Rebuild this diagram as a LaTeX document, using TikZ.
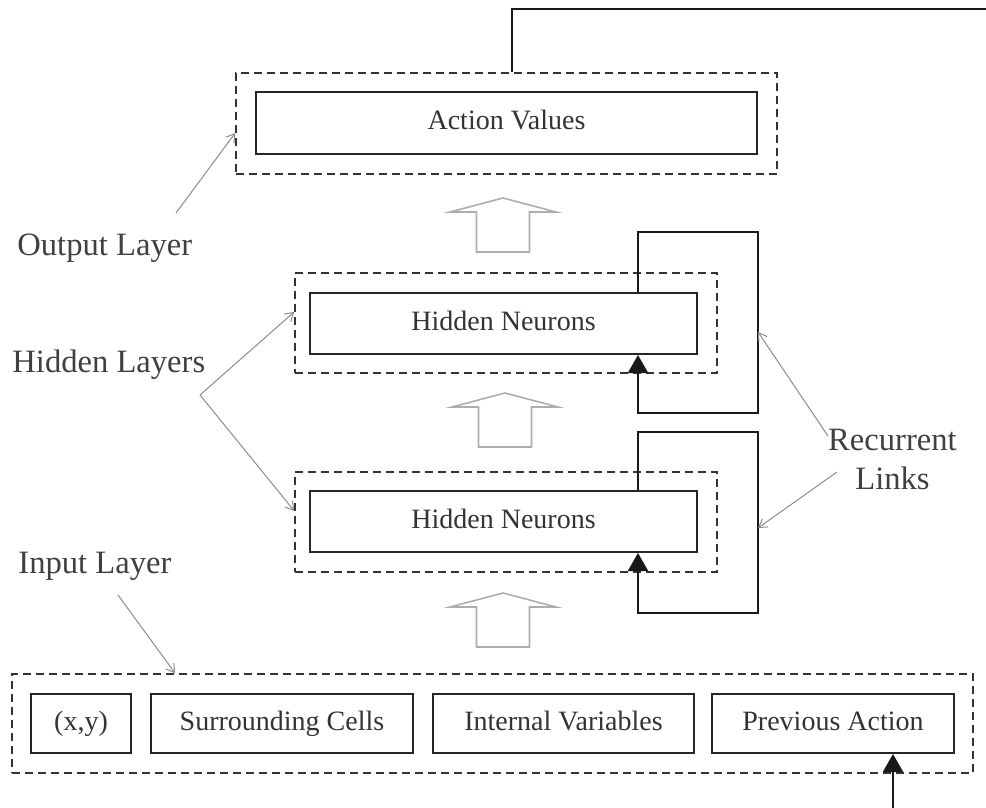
\documentclass[tikz,border=0pt]{standalone}
\usepackage{fontspec}
\setmainfont{Liberation Serif}
\usetikzlibrary{arrows.meta,calc}
\begin{document}
\begin{tikzpicture}[x=0.5pt,y=-0.5pt,
  solidbox/.style={draw=black!85, line width=1pt, inner sep=0pt, text height=9.5pt, text depth=3pt, font=\fontsize{14}{16}\selectfont, text=black!80},
  dashbox/.style={draw=black!80, line width=0.75pt, dash pattern=on 4pt off 2.5pt, inner sep=0pt},
  lbl/.style={inner sep=0pt, font=\fontsize{16.3}{20}\selectfont, text=black!75},
  leader/.style={draw=black!45, line width=0.5pt, -{Straight Barb[length=4pt,width=5pt]}},
  link/.style={draw=black!90, line width=1pt, -{Triangle[width=10pt,length=9pt]}},
  plain/.style={draw=black!90, line width=1pt},
  pics/hollowup/.style={code={\draw[black!32, line width=0.8pt] (-26.5,54) -- (-26.5,14) -- (-53,14) -- (0,0) -- (53,14) -- (26.5,14) -- (26.5,54) -- cycle;}}
]
\useasboundingbox (0,0) rectangle (986,808);
\fill[white] (0,0) rectangle (986,808);

% output layer
\node[dashbox, minimum width=270.5pt, minimum height=50.5pt] (avo) at (506.5,123.5) {};
\node[solidbox, minimum width=250.5pt, minimum height=31pt] (av) at (506.5,123) {Action Values};

% hidden layers
\node[dashbox, minimum width=211pt, minimum height=50pt] (h1o) at (506,323) {};
\node[solidbox, minimum width=193.5pt, minimum height=30.5pt] (h1) at (503.5,323.5) {Hidden Neurons};
\node[dashbox, minimum width=211pt, minimum height=50pt] (h2o) at (506,522) {};
\node[solidbox, minimum width=193.5pt, minimum height=30.5pt] (h2) at (503.5,521.5) {Hidden Neurons};

% input layer
\node[dashbox, minimum width=480.5pt, minimum height=49.5pt] (in) at (492.5,723.5) {};
\node[solidbox, minimum width=50pt, minimum height=29.5pt] (xy) at (81,723.5) {(x,y)};
\node[solidbox, minimum width=131pt, minimum height=29.5pt] (sc) at (282,723.5) {Surrounding Cells};
\node[solidbox, minimum width=130.5pt, minimum height=29.5pt] (iv) at (563.5,723.5) {Internal Variables};
\node[solidbox, minimum width=121pt, minimum height=29.5pt] (pa) at (833,723.5) {Previous Action};

% feedback line
\coordinate (fb1) at (512,9);
\coordinate (fb2) at (986,9);
\draw[plain] (avo.north -| fb1) -- (fb1) -- (fb2);

% recurrent loops
\coordinate (l1a) at (638,232);
\coordinate (l1b) at (758,413);
\draw[link] (h1.north -| l1a) -- (l1a) -- (l1a -| l1b) -- (l1b) -- (l1b -| l1a) -- (h1.south -| l1a);
\coordinate (l2a) at (638,432);
\coordinate (l2b) at (758,613);
\draw[link] (h2.north -| l2a) -- (l2a) -- (l2a -| l2b) -- (l2b) -- (l2b -| l2a) -- (h2.south -| l2a);

% input arrow
\coordinate (pin) at (893,808);
\draw[link] (pin) -- (pa.south -| pin);

% hollow arrows
\pic (ha1) at (503,198) {hollowup};
\pic (ha2) at (505,393) {hollowup};
\pic (ha3) at (503,593) {hollowup};

% labels
\node[lbl, anchor=base west] (ol) at (17,256) {Output Layer};
\node[lbl, anchor=base west] (hl) at (12,372) {Hidden Layers};
\node[lbl, anchor=base west] (il) at (18,573) {Input Layer};
\node[lbl, anchor=base] (rl1) at (892.5,450) {Recurrent};
\node[lbl, anchor=base] (rl2) at (892.5,489) {Links};

% leaders
\coordinate (olst) at (176,213);
\draw[leader] (olst) -- (avo.182);
\coordinate (hlst) at (200,395);
\draw[leader] (hlst) -- (h1o.177.3);
\draw[leader] (hlst) -- (h2o.177.6);
\coordinate (rla) at (828,436);
\coordinate (rle1) at (758,332);
\draw[leader] (rla) -- (rle1);
\coordinate (rlb) at (837,472);
\coordinate (rle2) at (758,528);
\draw[leader] (rlb) -- (rle2);
\coordinate (ilst) at (118,595);
\draw[leader] (ilst) -- (in.171);
\end{tikzpicture}
\end{document}
